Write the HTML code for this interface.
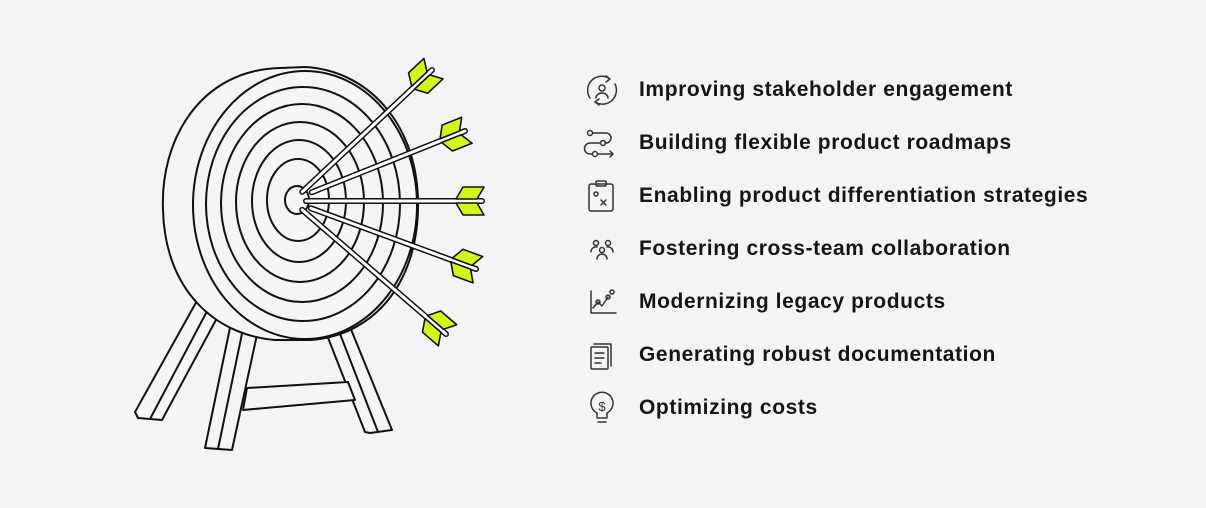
<!DOCTYPE html>
<html><head><meta charset="utf-8"><style>
body{margin:0;background:#f3f4f6;width:1206px;height:508px;overflow:hidden;position:relative;font-family:"Liberation Sans",sans-serif}
.t{position:absolute;left:639px;font-size:21px;letter-spacing:0.6px;font-weight:bold;color:#151515;line-height:24px;white-space:nowrap}
</style></head><body>
<svg width="1206" height="508" style="position:absolute;left:0;top:0">
<g fill="#f5f5f5" stroke="#111" stroke-width="2" stroke-linejoin="round">
<polygon points="203,290 224,305 162,420 138,418 135,412"/>
<line x1="214" y1="298" x2="150" y2="419"/>
<polygon points="325,330 348,322 392,430 370,433 365,432"/>
<line x1="337" y1="326" x2="378" y2="432"/>
<polygon points="247,388 348,382 355,400 243,410"/>
<polygon points="232,318 258,330 232,450 205,448"/>
<line x1="244" y1="324" x2="218" y2="449"/>
<path d="M280,68 C200,70 160,140 163,210 C165,290 215,335 275,340 L310,340 C380,335 420,275 418,200 C416,120 365,70 305,67 Z"/>
<ellipse cx="305" cy="205" rx="112" ry="134"/>
<ellipse cx="303" cy="204" rx="97" ry="117"/>
<ellipse cx="302" cy="203" rx="81" ry="99"/>
<ellipse cx="300" cy="202" rx="64" ry="80"/>
<ellipse cx="299" cy="201" rx="47" ry="61"/>
<ellipse cx="298" cy="200" rx="31" ry="41"/>
<ellipse cx="297" cy="200" rx="12" ry="14"/>
</g>
<defs>
<g id="fl" fill="#d4f51c" stroke="#111" stroke-width="1.6" stroke-linejoin="round">
<polygon points="-26,-2 -19,-14 2,-14 -5,-2"/>
<polygon points="-26,2 -19,14 2,14 -5,2"/>
</g>
</defs>
<g stroke-linecap="round">
<g transform="translate(432,70) rotate(-223.2)"><line x1="0" y1="0" x2="178" y2="0" stroke="#111" stroke-width="6"/><line x1="0" y1="0" x2="178" y2="0" stroke="#fff" stroke-width="3"/></g>
<g transform="translate(465,131) rotate(-201.8)"><line x1="0" y1="0" x2="165" y2="0" stroke="#111" stroke-width="6"/><line x1="0" y1="0" x2="165" y2="0" stroke="#fff" stroke-width="3"/></g>
<g transform="translate(482,201) rotate(180)"><line x1="0" y1="0" x2="176" y2="0" stroke="#111" stroke-width="6"/><line x1="0" y1="0" x2="176" y2="0" stroke="#fff" stroke-width="3"/></g>
<g transform="translate(476,269) rotate(-159.8)"><line x1="0" y1="0" x2="176" y2="0" stroke="#111" stroke-width="6"/><line x1="0" y1="0" x2="176" y2="0" stroke="#fff" stroke-width="3"/></g>
<g transform="translate(446,334) rotate(-139.2)"><line x1="0" y1="0" x2="190" y2="0" stroke="#111" stroke-width="6"/><line x1="0" y1="0" x2="190" y2="0" stroke="#fff" stroke-width="3"/></g>
</g>
<use href="#fl" transform="translate(432,70) rotate(-43.2)"/>
<use href="#fl" transform="translate(465,131) rotate(-21.8)"/>
<use href="#fl" transform="translate(482,201)"/>
<use href="#fl" transform="translate(476,269) rotate(20.2)"/>
<use href="#fl" transform="translate(446,334) rotate(40.8)"/>
<g fill="none" stroke="#333" stroke-width="1.5" stroke-linecap="round" stroke-linejoin="round">
<path d="M590,98 A14,14 0 0 1 610,79 M606,76 l4,3 -4,3 M615,84 A14,14 0 0 1 595,102 M599,105 l-4,-3 4,-3"/>
<circle cx="602" cy="88" r="3"/><path d="M596,98 a6,5 0 0 1 12,0"/>
<circle cx="590" cy="133" r="2.5"/><circle cx="603" cy="143" r="2.5"/><circle cx="595" cy="154" r="2.5"/>
<path d="M593,133 h13 a5,5 0 0 1 0,10 h-1 M600,143 h-10 a5,5 0 0 0 0,11 h2 M598,154 h15 M610,151 l3,3 -3,3"/>
<rect x="589" y="184" width="24" height="27" rx="2"/><rect x="596" y="181" width="10" height="5" rx="1"/>
<circle cx="596" cy="194" r="2"/><path d="M601,200 l5,5 M606,200 l-5,5"/>
<circle cx="596" cy="243" r="2.5"/><circle cx="608" cy="243" r="2.5"/><circle cx="602" cy="250" r="2.5"/>
<path d="M591,252 a5,5 0 0 1 6,-5 M613,252 a5,5 0 0 0 -6,-5 M597,259 a5,5 0 0 1 10,0"/>
<path d="M591,291 v22 h25 M593,308 l5,-6 4,4 6,-9"/><circle cx="598" cy="302" r="2"/><circle cx="608" cy="297" r="2"/><circle cx="612" cy="292" r="2"/>
<rect x="591" y="347" width="17" height="22" rx="1"/><path d="M611,344 v22 M595,353 h9 M595,358 h9 M595,363 h6 M594,344 h17"/>
<path d="M597,413 a11,11 0 1 1 10,0 v5 h-10 z M598,422 h8"/><text x="602" y="411" font-size="13" fill="#333" stroke="none" text-anchor="middle" font-family="Liberation Sans">$</text>
</g>
</svg>
<div class="t" style="top:78px">Improving stakeholder engagement</div>
<div class="t" style="top:131px">Building flexible product roadmaps</div>
<div class="t" style="top:184px">Enabling product differentiation strategies</div>
<div class="t" style="top:237px">Fostering cross-team collaboration</div>
<div class="t" style="top:290px">Modernizing legacy products</div>
<div class="t" style="top:343px">Generating robust documentation</div>
<div class="t" style="top:396px">Optimizing costs</div>
</body></html>
